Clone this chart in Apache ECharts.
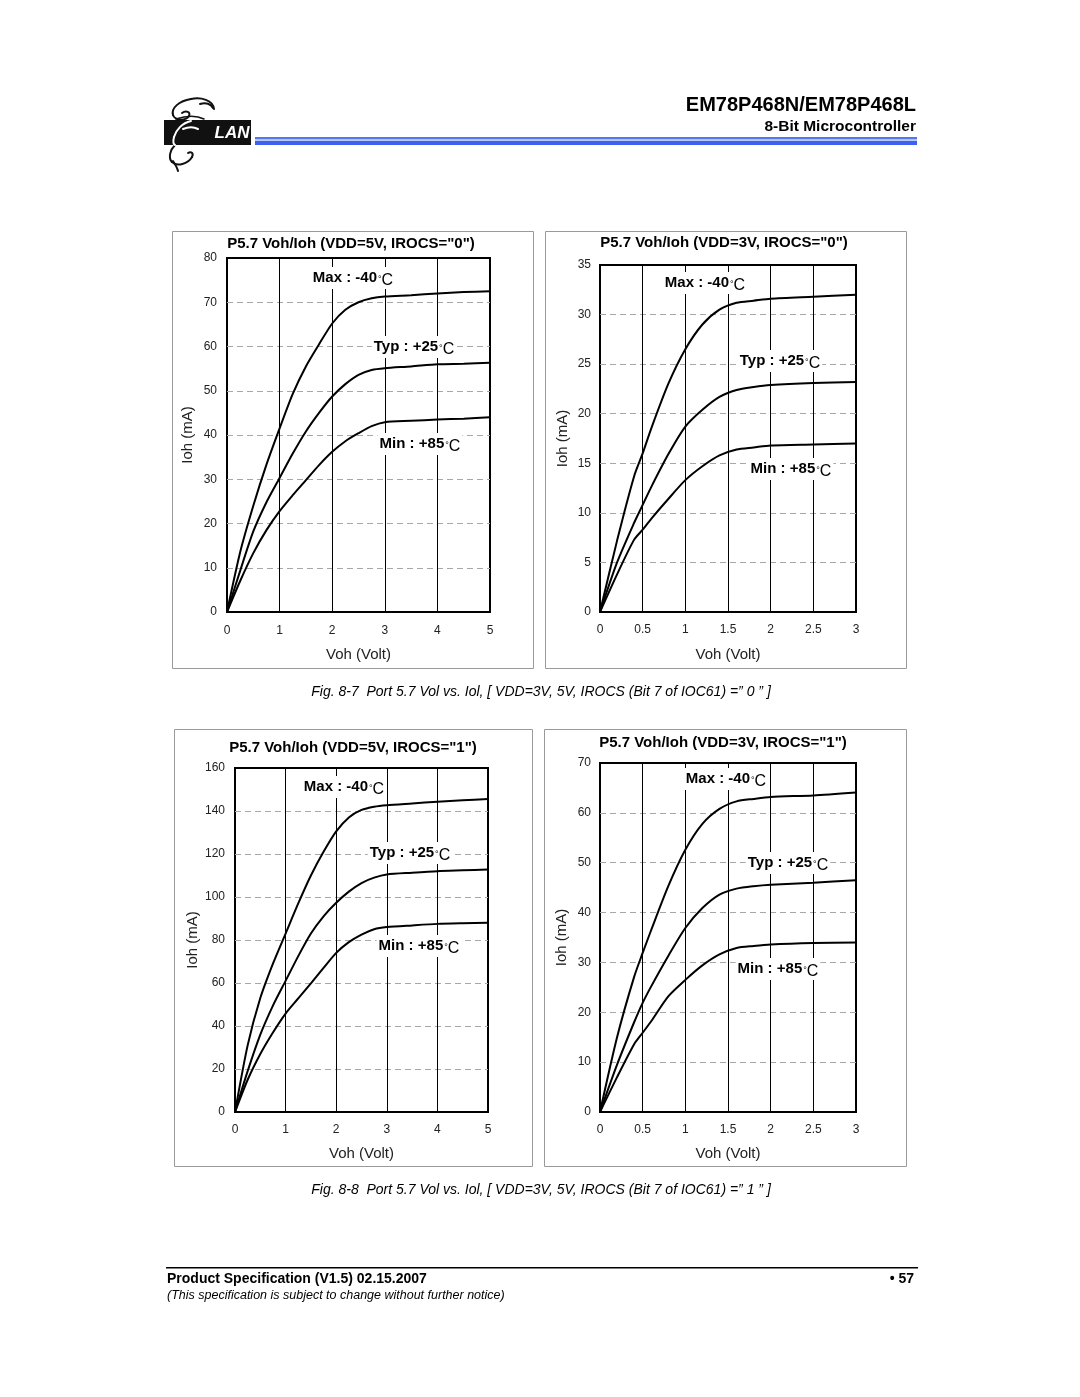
<!DOCTYPE html>
<html>
<head>
<meta charset="utf-8">
<script src="https://cdn.jsdelivr.net/npm/echarts@6/dist/echarts.min.js"></script>
<style>
html,body{margin:0;padding:0;background:#fff;}
#main{width:1080px;height:1397px;}
</style>
</head>
<body>
<div id="main"></div>
<script>
// ---------------- DATA ----------------
// Chart A: VDD=5V, IROCS="0"
const voltsA = [0, 0.25, 0.5, 0.75, 1, 1.25, 1.5, 1.75, 2, 2.25, 2.5, 2.75, 3, 3.5, 4, 4.5, 5];
const maxA = [0, 13.5, 24, 33.3, 41.5, 49.3, 55.5, 60.5, 65.2, 68.3, 70, 70.9, 71.3, 71.6, 72, 72.3, 72.5];
const typA = [0, 9.3, 18.2, 24.8, 30.3, 35.8, 40.8, 45, 48.7, 51.5, 53.6, 54.7, 55.1, 55.5, 56, 56.1, 56.3];
const minA = [0, 7, 13.3, 18.5, 22.8, 26.4, 29.8, 33.2, 36.2, 38.6, 40.4, 42, 42.9, 43.2, 43.5, 43.7, 44];

// Chart B: VDD=3V, IROCS="0"
const voltsB = [0, 0.2, 0.4, 0.5, 0.6, 0.8, 1, 1.2, 1.4, 1.6, 1.8, 2, 2.5, 3];
const maxB = [0, 7.2, 13.7, 16, 18.5, 23, 26.5, 29, 30.5, 31.2, 31.4, 31.6, 31.8, 32];
const typB = [0, 5, 9, 10.8, 12.6, 15.9, 18.7, 20.4, 21.7, 22.4, 22.7, 22.9, 23.1, 23.2];
const minB = [0, 3.8, 7.3, 8.3, 9.4, 11.4, 13.3, 14.7, 15.8, 16.4, 16.6, 16.8, 16.9, 17];

// Chart C: VDD=5V, IROCS="1"
const voltsC = [0, 0.25, 0.5, 0.75, 1, 1.25, 1.5, 1.75, 2, 2.25, 2.5, 2.75, 3, 3.5, 4, 4.5, 5];
const maxC = [0, 31, 53, 69, 83, 97, 110, 121, 130.5, 137, 140.5, 142, 142.7, 143.5, 144.3, 145, 145.6];
const typC = [0, 19, 36, 49.5, 61, 72.5, 83, 91, 97.3, 102.5, 106.5, 109, 110.5, 111.3, 112, 112.4, 112.8];
const minC = [0, 15, 27, 37, 45.8, 52.8, 59.8, 67, 74, 79, 82.5, 85, 86, 86.8, 87.5, 87.8, 88];

// Chart D: VDD=3V, IROCS="1"
const voltsD = [0, 0.2, 0.4, 0.5, 0.6, 0.8, 1, 1.2, 1.4, 1.6, 1.8, 2, 2.5, 3];
const maxD = [0, 15, 27.1, 31.9, 36.5, 45.3, 52.6, 57.8, 60.8, 62.3, 62.8, 63.2, 63.5, 64.1];
const typD = [0, 9.5, 18, 21.9, 25.2, 31.3, 36.9, 40.9, 43.6, 44.8, 45.3, 45.6, 46, 46.5];
const minD = [0, 7, 13.6, 15.9, 18.2, 23.2, 26.5, 29.4, 31.6, 32.9, 33.3, 33.6, 33.9, 34];

const chartTitles = [
  'P5.7 Voh/Ioh (VDD=5V, IROCS="0")',
  'P5.7 Voh/Ioh (VDD=3V, IROCS="0")',
  'P5.7 Voh/Ioh (VDD=5V, IROCS="1")',
  'P5.7 Voh/Ioh (VDD=3V, IROCS="1")'
];
const curveLabels = ['Max : -40', 'Typ : +25', 'Min : +85'];
const xMax = [5, 3, 5, 3];
const xStep = [1, 0.5, 1, 0.5];
const yMax = [80, 35, 160, 70];
const yStep = [10, 5, 20, 10];
const captions = [
  'Fig. 8-7  Port 5.7 Vol vs. Iol, [ VDD=3V, 5V, IROCS (Bit 7 of IOC61) =” 0 ” ]',
  'Fig. 8-8  Port 5.7 Vol vs. Iol, [ VDD=3V, 5V, IROCS (Bit 7 of IOC61) =” 1 ” ]'
];

// ---------------- LAYOUT ----------------
const FONT = '"Liberation Sans", Arial, sans-serif';
const grids = [
  {left: 227, top: 258, width: 263, height: 354},
  {left: 600, top: 265, width: 256, height: 347},
  {left: 235, top: 768, width: 253, height: 344},
  {left: 600, top: 763, width: 256, height: 349}
];
const xNameGap = [35, 35, 34, 34];
const yNameGap = [32, 30, 35, 31];
const yLabelMargin = [10, 9, 10, 9];
const xLabelMargin = [13, 12, 12, 12];
const frames = [
  [172, 231, 361, 437],
  [545, 231, 361, 437],
  [174, 729, 358, 437],
  [544, 729, 362, 437]
];
const titlePos = [[351, 244], [724, 243], [353, 748], [723, 743]];
const labelPos = [
  [[353, 278], [414, 347], [420, 444]],
  [[705, 283], [780, 361], [791, 469]],
  [[344, 787], [410, 853], [419, 946]],
  [[726, 779], [788, 863], [778, 969]]
];

const volts = [voltsA, voltsB, voltsC, voltsD];
const curves = [[maxA, typA, minA], [maxB, typB, minB], [maxC, typC, minC], [maxD, typD, minD]];

const xAxes = [], yAxes = [], series = [];
grids.forEach((g, i) => {
  xAxes.push({
    type: 'value', gridIndex: i, min: 0, max: xMax[i], interval: xStep[i],
    axisLine: {show: false}, axisTick: {show: false},
    splitLine: {show: true, showMinLine: false, showMaxLine: false, lineStyle: {color: '#000', width: 1}},
    axisLabel: {color: '#222', fontSize: 12, fontFamily: FONT, margin: xLabelMargin[i]},
    name: 'Voh (Volt)', nameLocation: 'middle', nameGap: xNameGap[i],
    nameTextStyle: {color: '#222', fontSize: 15, fontFamily: FONT}
  });
  yAxes.push({
    type: 'value', gridIndex: i, min: 0, max: yMax[i], interval: yStep[i],
    axisLine: {show: false}, axisTick: {show: false},
    splitLine: {show: true, showMinLine: false, showMaxLine: false, lineStyle: {color: '#a8a8a8', width: 1, type: [6, 4]}},
    axisLabel: {color: '#222', fontSize: 12, fontFamily: FONT, margin: yLabelMargin[i]},
    name: 'Ioh (mA)', nameLocation: 'middle', nameGap: yNameGap[i], nameRotate: 90,
    nameTextStyle: {color: '#222', fontSize: 15, fontFamily: FONT}
  });
  curves[i].forEach((ys, k) => {
    series.push({
      type: 'line', xAxisIndex: i, yAxisIndex: i, name: curveLabels[k],
      data: volts[i].map((v, j) => [v, ys[j]]),
      showSymbol: false, symbol: 'none', smooth: 0.25,
      lineStyle: {color: '#000', width: 2}, silent: true, z: 3
    });
  });
});

const graphics = [];
function T(text, x, y, font, align, extra) {
  const st = Object.assign({text: text, x: x, y: y, font: font, fill: '#000',
    textAlign: align, align: align, textVerticalAlign: 'middle', verticalAlign: 'middle'}, extra || {});
  graphics.push({type: 'text', z: 10, style: st});
}
// convert a simple "M x,y C ..." path string into bezierCurve graphics
function strokePath(d, color, width, z) {
  const toks = d.match(/[MC]|-?[\d.]+/g);
  let i = 0, cx = 0, cy = 0, cmd = null;
  while (i < toks.length) {
    if (toks[i] === 'M' || toks[i] === 'C') { cmd = toks[i]; i++; continue; }
    if (cmd === 'M') { cx = +toks[i]; cy = +toks[i + 1]; i += 2; }
    else {
      const p = toks.slice(i, i + 6).map(Number); i += 6;
      graphics.push({type: 'bezierCurve', z: z, shape: {x1: cx, y1: cy, cpx1: p[0], cpy1: p[1], cpx2: p[2], cpy2: p[3], x2: p[4], y2: p[5]},
        style: {fill: 'none', stroke: color, lineWidth: width, lineCap: 'round'}});
      cx = p[4]; cy = p[5];
    }
  }
}
// header
T('EM78P468N/EM78P468L', 916, 105, 'bold 20px ' + FONT, 'right');
T('8-Bit Microcontroller', 916, 127, 'bold 15.5px ' + FONT, 'right');
graphics.push({type: 'rect', z: 10, shape: {x: 255, y: 137, width: 662, height: 2.5}, style: {fill: '#5476f2'}});
graphics.push({type: 'rect', z: 10, shape: {x: 255, y: 139.5, width: 662, height: 1.5}, style: {fill: '#b9c8fb'}});
graphics.push({type: 'rect', z: 10, shape: {x: 255, y: 141, width: 662, height: 4}, style: {fill: '#3f5ff0'}});
// logo
graphics.push({type: 'rect', z: 10, shape: {x: 164, y: 120, width: 87, height: 25}, style: {fill: '#111'}});
T('LAN', 232, 133, 'italic bold 17px ' + FONT, 'center', {fill: '#fff'});
strokePath('M214,109 C213,100 201,97 191,99 C179,101 171,108 173,115 C175,121 186,121 189,116 C191,112 186,110 182,113 M200,104 C206,102 211,104 213,108', '#111', 2, 11);
strokePath('M176,119 C185,116 196,115 204,119', '#111', 1.6, 11);
strokePath('M191,121 C182,123 176,130 174,137 C173,141 173,144 175,145 M183,129 C188,127 194,127 198,129', '#fff', 2, 12);
strokePath('M175,145 C170,150 168,158 172,162 C177,167 188,164 192,157 C194,153 191,151 188,153 M173,161 C175,164 177,167 178,171', '#111', 2, 11);

// frames, titles, curve labels
frames.forEach((f, i) => {
  graphics.push({type: 'rect', z: 1, shape: {x: f[0] + 0.5, y: f[1] + 0.5, width: f[2], height: f[3]}, style: {fill: 'none', stroke: '#9a9a9a', lineWidth: 1}});
  T(chartTitles[i], titlePos[i][0], titlePos[i][1], 'bold 15px ' + FONT, 'center');
  labelPos[i].forEach((p, k) => {
    T('{b|' + curveLabels[k] + '}{d|°}{c|C}', p[0], p[1], 'bold 15px ' + FONT, 'center', {
      backgroundColor: '#fff', padding: [0, 2, 0, 2],
      rich: {
        b: {font: 'bold 15px ' + FONT, fill: '#000'},
        d: {font: '9px ' + FONT, fill: '#000', padding: [3, 0, 0, 1]},
        c: {font: '16px ' + FONT, fill: '#000', padding: [6, 0, 0, 0]}
      }
    });
  });
});

// captions
T(captions[0], 541, 692, 'italic 14px ' + FONT, 'center');
T(captions[1], 541, 1190, 'italic 14px ' + FONT, 'center');

// footer
graphics.push({type: 'rect', z: 10, shape: {x: 166, y: 1267, width: 752, height: 1.5}, style: {fill: '#000'}});
T('Product Specification (V1.5) 02.15.2007', 167, 1279, 'bold 14px ' + FONT, 'left');
T('• 57', 914, 1279, 'bold 14px ' + FONT, 'right');
T('(This specification is subject to change without further notice)', 167, 1296, 'italic 12.5px ' + FONT, 'left');

const chart = echarts.init(document.getElementById('main'), null, {renderer: 'canvas'});
chart.setOption({
  backgroundColor: '#fff',
  animation: false,
  grid: grids.map(g => Object.assign({show: true, borderColor: '#000', borderWidth: 2, backgroundColor: 'transparent', containLabel: false}, g)),
  xAxis: xAxes,
  yAxis: yAxes,
  series: series,
  graphic: {elements: graphics}
});
</script>
</body>
</html>
